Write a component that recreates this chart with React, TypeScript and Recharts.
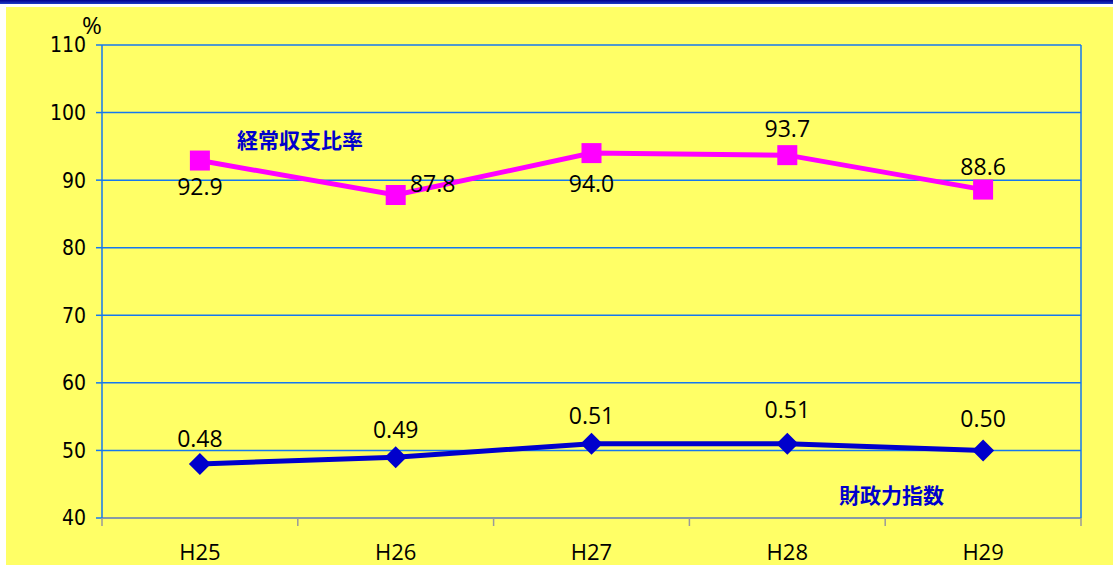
import React from 'react';
import { LineChart, Line, XAxis, YAxis, CartesianGrid, LabelList } from 'recharts';

const categories = ['H25', 'H26', 'H27', 'H28', 'H29'];
const ratioValues = [92.9, 87.8, 94.0, 93.7, 88.6]; // 経常収支比率 (%)
const indexValues = [0.48, 0.49, 0.51, 0.51, 0.5]; // 財政力指数
const yTicks = [40, 50, 60, 70, 80, 90, 100, 110];

// label offsets (dx, dy) from each point, style only
const ratioLabelOffsets = [[0, 25], [37, -12], [0, 30], [0, -27], [0, -24]];
const indexLabelOffsets = [[0, -26], [0, -28], [0, -29], [0, -35], [0, -32]];

const data = categories.map((name, i) => ({
    name,
    ratio: ratioValues[i],
    index: indexValues[i] * 100,
    indexText: indexValues[i].toFixed(2),
    ratioText: ratioValues[i].toFixed(1),
}));

const W = 1113;
const H = 567;
const MARGIN = { top: 45, right: 31, left: 2, bottom: 0 };
const Y_AXIS_W = 100;
const RIGHT_AXIS_W = 1;
const PLOT_W = W - MARGIN.left - MARGIN.right - Y_AXIS_W - RIGHT_AXIS_W;
const HALF_BAND = PLOT_W / categories.length / 2;

const GRID = '#1478F0';
const AXIS_GRAY = '#9a9a9a';
const LABEL_FONT = "'Open Sans', 'Noto Sans', sans-serif";

const SquareDot = (props: any) => {
    const { cx, cy, index } = props;
    return <rect key={`sq-${index}`} x={cx - 10} y={cy - 10} width={20} height={20} fill="#FF00FF" />;
};

const DiamondDot = (props: any) => {
    const { cx, cy, index } = props;
    return (
        <polygon
            key={`dm-${index}`}
            points={`${cx},${cy - 11} ${cx + 11},${cy} ${cx},${cy + 11} ${cx - 11},${cy}`}
            fill="#0000CC"
        />
    );
};

// category label plus tick marks on the band boundaries
const CategoryTick = (props: any) => {
    const { x, y, payload, index } = props;
    const last = index === categories.length - 1;
    return (
        <g>
            <line x1={x - HALF_BAND} x2={x - HALF_BAND} y1={y} y2={y + 8} stroke={AXIS_GRAY} strokeWidth={1.5} />
            {last && <line x1={x + HALF_BAND} x2={x + HALF_BAND} y1={y} y2={y + 8} stroke={AXIS_GRAY} strokeWidth={1.5} />}
            <text x={x} y={y + 33} textAnchor="middle" dominantBaseline="central" fill="#000" style={{ fontFamily: LABEL_FONT, fontSize: 22 }}>
                {payload.value}
            </text>
        </g>
    );
};

const makeLabel = (offsets: number[][]) => (props: any) => {
    const { x, y, value, index } = props;
    const [dx, dy] = offsets[index] || [0, 0];
    return (
        <text
            x={x + dx}
            y={y + dy}
            textAnchor="middle"
            dominantBaseline="central"
            fill="#000"
            style={{ fontFamily: LABEL_FONT, fontSize: 23 }}
        >
            {value}
        </text>
    );
};

export default function App() {
    return (
        <div style={{ position: 'absolute', left: 0, top: 0, width: W, height: H, background: '#fff', overflow: 'hidden' }}>
            <div style={{ position: 'absolute', left: 0, top: 0, width: W, height: 4, background: 'linear-gradient(#00008C, #1E3CC8)' }} />
            <div style={{ position: 'absolute', left: 6, top: 7, width: W - 6, height: 558, background: '#FFFF66' }} />
            <div style={{ position: 'absolute', left: 0, top: 0 }}>
                <LineChart width={W} height={H} data={data} margin={MARGIN}>
                    <CartesianGrid vertical={false} stroke={GRID} strokeWidth={1.5} />
                    <XAxis
                        dataKey="name"
                        scale="band"
                        height={49}
                        stroke={AXIS_GRAY}
                        strokeWidth={1.5}
                        tickLine={false}
                        tickSize={0}
                        tickMargin={0}
                        interval={0}
                        tick={CategoryTick}
                    />
                    <YAxis
                        width={Y_AXIS_W}
                        domain={[40, 110]}
                        ticks={yTicks}
                        interval={0}
                        stroke={GRID}
                        strokeWidth={1.5}
                        tickSize={6}
                        tickMargin={10}
                        tick={{ fill: '#000', fontSize: 21, fontFamily: "'Liberation Sans Narrow', 'DejaVu Sans Condensed', sans-serif" }}
                    />
                    <YAxis
                        yAxisId="right"
                        orientation="right"
                        width={RIGHT_AXIS_W}
                        domain={[40, 110]}
                        tick={false}
                        tickLine={false}
                        stroke={GRID}
                        strokeWidth={1.5}
                    />
                    <Line
                        dataKey="ratio"
                        stroke="#FF00FF"
                        strokeWidth={5}
                        dot={SquareDot}
                        activeDot={false}
                        isAnimationActive={false}
                    >
                        <LabelList dataKey="ratioText" content={makeLabel(ratioLabelOffsets)} />
                    </Line>
                    <Line
                        dataKey="index"
                        stroke="#0000CC"
                        strokeWidth={5}
                        dot={DiamondDot}
                        activeDot={false}
                        isAnimationActive={false}
                    >
                        <LabelList dataKey="indexText" content={makeLabel(indexLabelOffsets)} />
                    </Line>
                </LineChart>
            </div>
            <div style={{ position: 'absolute', left: 82, top: 11, fontFamily: LABEL_FONT, fontSize: 24, lineHeight: '28px', color: '#000' }}>%</div>
            <div style={{ position: 'absolute', left: 237, top: 126, fontFamily: "'Noto Sans CJK JP', sans-serif", fontWeight: 700, fontSize: 21, lineHeight: '26px', color: '#0000CC', whiteSpace: 'nowrap' }}>経常収支比率</div>
            <div style={{ position: 'absolute', left: 839, top: 481, fontFamily: "'Noto Sans CJK JP', sans-serif", fontWeight: 700, fontSize: 21, lineHeight: '26px', color: '#0000CC', whiteSpace: 'nowrap' }}>財政力指数</div>
        </div>
    );
}
